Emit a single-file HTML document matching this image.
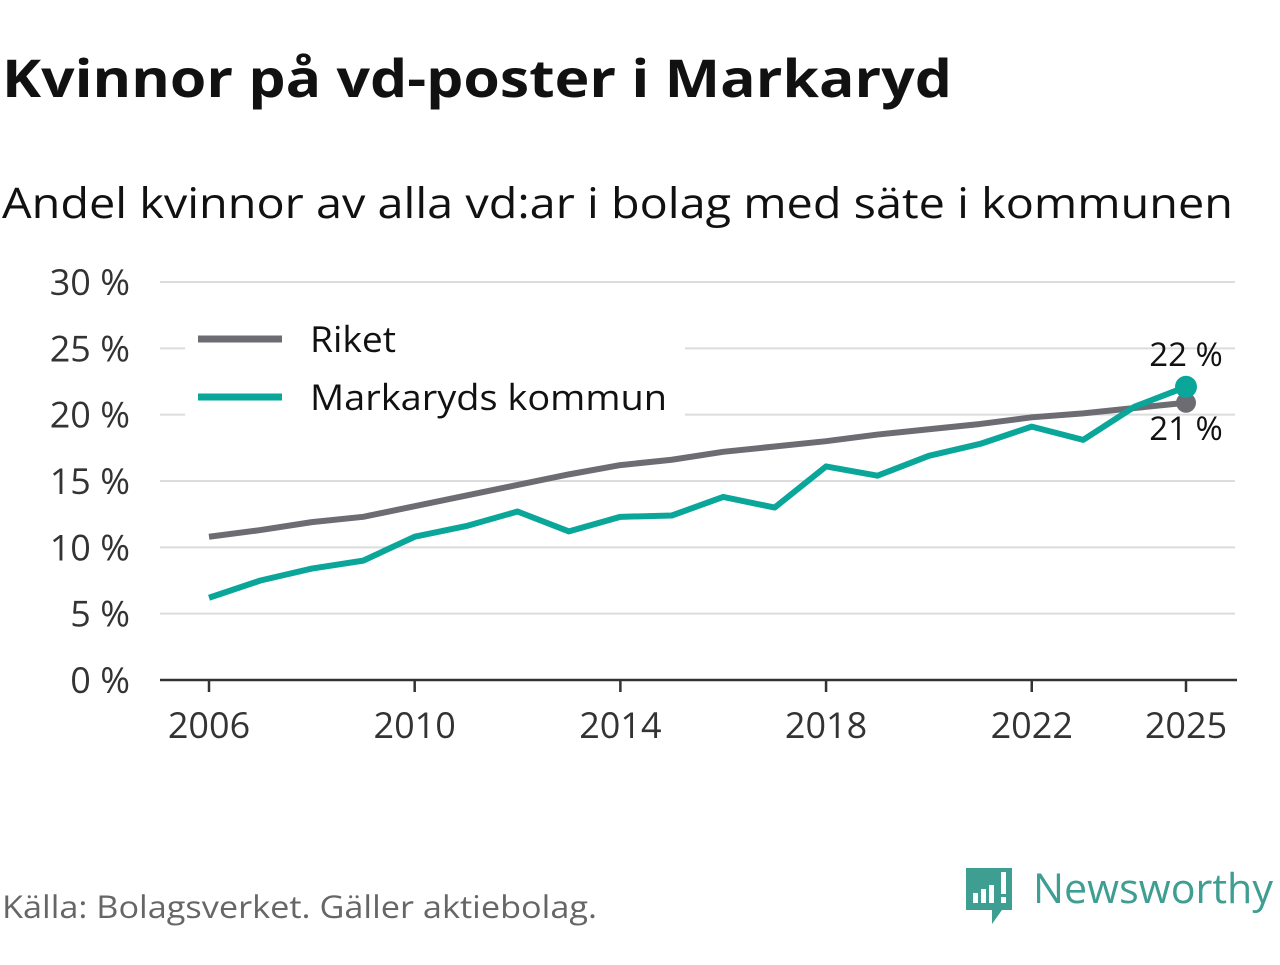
<!DOCTYPE html>
<html><head><meta charset="utf-8"><style>
body{margin:0;background:#fff;width:1280px;height:960px;overflow:hidden;font-family:"Open Sans","DejaVu Sans","Liberation Sans",sans-serif;}
svg text{font-family:"Open Sans","DejaVu Sans","Liberation Sans",sans-serif;}
</style></head><body>
<svg id="chart" width="1280" height="960">
<text x="2" y="97" font-size="52" font-weight="bold" fill="#111" textLength="950" lengthAdjust="spacingAndGlyphs">Kvinnor på vd-poster i Markaryd</text>
<text x="2" y="218" font-size="42" fill="#111" textLength="1231" lengthAdjust="spacingAndGlyphs">Andel kvinnor av alla vd:ar i bolag med säte i kommunen</text>
<g id="grid"></g><g id="series"></g>
<rect x="185" y="312" width="500" height="110" fill="#fff"/>
<g>
<line x1="198" y1="339" x2="282" y2="339" stroke="#6e6c73" stroke-width="7"/>
<text x="310" y="352" font-size="36" fill="#111" textLength="86" lengthAdjust="spacingAndGlyphs">Riket</text>
<line x1="198" y1="397" x2="282" y2="397" stroke="#0aa69a" stroke-width="7"/>
<text x="310" y="410" font-size="36" fill="#111" textLength="357" lengthAdjust="spacingAndGlyphs">Markaryds kommun</text>
</g>
<g id="ends"></g>
<text x="2" y="918" font-size="31" fill="#666" textLength="595" lengthAdjust="spacingAndGlyphs">Källa: Bolagsverket. Gäller aktiebolag.</text>
<g>
<path d="M966 868 h46 v42 h-10 l-10 14 v-14 h-26z" fill="#3d9e91"/>
<rect x="973" y="893" width="5" height="10" fill="#fff"/><rect x="981" y="889" width="5" height="14" fill="#fff"/><rect x="989" y="885" width="5" height="18" fill="#fff"/><rect x="1001" y="872" width="5" height="22" fill="#fff"/><rect x="1001" y="897" width="5" height="6" fill="#fff"/>
<text x="1033" y="903" font-size="41" font-weight="500" fill="#3d9e91" textLength="240" lengthAdjust="spacingAndGlyphs">Newsworthy</text>
</g>
</svg>
<script>
const years=[2006,2007,2008,2009,2010,2011,2012,2013,2014,2015,2016,2017,2018,2019,2020,2021,2022,2023,2024,2025];
const riket=[10.8,11.3,11.9,12.3,13.1,13.9,14.7,15.5,16.2,16.6,17.2,17.6,18.0,18.5,18.9,19.3,19.8,20.1,20.5,20.9];
const markaryd=[6.2,7.5,8.4,9.0,10.8,11.6,12.7,11.2,12.3,12.4,13.8,13.0,16.1,15.4,16.9,17.8,19.1,18.1,20.6,22.1];
const yTicks=[0,5,10,15,20,25,30];
const xTicks=[2006,2010,2014,2018,2022,2025];
const NS="http://www.w3.org/2000/svg";
const xs=y=>209+(y-2006)*(1186-209)/19;
const ys=v=>680-v*(680-282)/30;
function mk(t,a,p){const e=document.createElementNS(NS,t);for(const k in a)e.setAttribute(k,a[k]);p.appendChild(e);return e;}
const grid=document.getElementById('grid');
yTicks.forEach(v=>{
 if(v>0){const l=mk('line',{x1:160,x2:1235,y1:ys(v),y2:ys(v),stroke:'#dcdcdc','stroke-width':2},grid);
 
 }
 const t=mk('text',{x:130,y:ys(v)+13,'text-anchor':'end','font-size':36,fill:'#333'},grid);t.textContent=v+' %';
 
 
});
const ax=mk('line',{x1:160,x2:1237,y1:680,y2:680,stroke:'#333','stroke-width':2.5},grid);


xTicks.forEach(y=>{
 const l=mk('line',{x1:xs(y),x2:xs(y),y1:680,y2:692,stroke:'#333','stroke-width':2.5},grid);
 
 
 const t=mk('text',{x:xs(y),y:738,'text-anchor':'middle','font-size':36,fill:'#333'},grid);t.textContent=y;
 
 
});
const S=document.getElementById('series');
[[riket,'#6e6c73','riket-line'],[markaryd,'#0aa69a','markaryd-line']].forEach(([d,c,n])=>{
 const p=mk('polyline',{points:d.map((v,i)=>xs(years[i])+','+ys(v)).join(' '),fill:'none',stroke:c,'stroke-width':6,'stroke-linejoin':'round'},S);
 
 
});
const E=document.getElementById('ends');const li=years.length-1;
const c1=mk('circle',{cx:xs(years[li]),cy:ys(riket[li]),r:10,fill:'#6e6c73'},E);


const c2=mk('circle',{cx:xs(years[li]),cy:ys(markaryd[li]),r:11,fill:'#0aa69a'},E);


const t1=mk('text',{x:xs(years[li]),y:440,'text-anchor':'middle','font-size':33,fill:'#111'},E);t1.textContent=Math.round(riket[li])+' %';


const t2=mk('text',{x:xs(years[li]),y:366,'text-anchor':'middle','font-size':33,fill:'#111'},E);t2.textContent=Math.round(markaryd[li])+' %';


</script>
</body></html>
